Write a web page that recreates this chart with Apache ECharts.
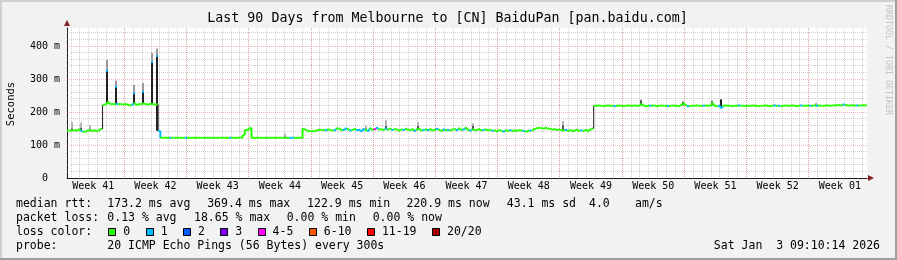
<!DOCTYPE html>
<html><head><meta charset="utf-8">
<script src="https://cdn.jsdelivr.net/npm/echarts@6/dist/echarts.min.js"></script>
<style>html,body{margin:0;padding:0;background:#f2f2f2;overflow:hidden}#c{width:897px;height:260px}</style>
</head><body><div id="c"></div>
<script>
// ---------------- data ----------------
const STEP_DAYS = 0.25;          // spacing of median samples (days)
const TOTAL_DAYS = 90;
const medianValues = [
 144,144,144,145,144,147,143,140,141,144,145,142,144,143,145,149,
 222,224,230,225,224,224,225,224,224,223,224,222,220,223,226,222,224,224,226,224,223,225,224,223,223,
 143,
 122,122,122,122,122,122,122,122,122,122,
 122,122,122,122,122,122,122,122,122,122,
 122,122,122,122,122,122,122,122,122,122,
 122,122,122,122,122,122,122,
 130,146,146,152,
 122,122,122,122,122,122,122,122,122,122,
 122,122,122,122,122,122,122,122,122,122,
 122,122,122,
 149,146,143,142,143,
 142,144,146,146,145,145,147,146,144,145,
 150,150,145,146,150,148,144,146,149,145,
 146,142,148,145,143,150,146,148,152,147,
 148,146,150,147,149,146,148,147,144,147,
 146,149,147,145,148,143,147,149,144,146,
 147,145,148,144,146,149,146,143,147,145,
 146,144,147,148,145,150,146,147,152,146,
 144,147,145,146,148,144,146,147,145,146,
 143,144,142,145,143,141,144,143,145,142,
 144,143,145,144,143,141,142,144,145,149,
 151,152,151,150,152,150,149,147,148,146,
 147,145,144,146,143,145,142,144,146,143,
 144,143,146,142,147,150,
 219,219,220,219,218,219,220,219,219,218,
 219,220,219,218,219,220,219,219,220,219,
 219,224,220,218,219,219,220,219,218,219,
 220,219,219,218,219,220,219,219,218,222,
 226,221,218,218,219,219,220,219,219,219,
 220,219,220,226,219,218,219,213,219,220,
 219,219,218,219,219,220,219,219,218,219,
 219,220,219,219,218,219,219,220,219,218,
 219,220,219,219,218,219,220,219,219,220,
 219,218,219,220,219,219,220,219,219,220,
 219,220,219,219,220,220,219,220,220,221,
 221,220,223,221,220,220,221,220,220,220,
 220,221,220,220
];
// sample indices with 1 lost ping (blue) and 4-5 lost (magenta)
const lossOneIdx = [6,22,29,41,46,53,73,100,101,116,120,124,125,127,130,131,132,133,135,139,143,146,151,156,160,162,166,169,171,175,178,181,187,191,196,199,205,208,224,231,
  246,262,270,279,286,293,294,302,318,320,330,334,337,349,355];
const lossFourIdx = [138];

// smoke spikes (day position, median base, dense-smoke top, faint-smoke top)
const spikeDay  = [4.47, 5.48, 7.54, 8.52, 9.56, 10.12, 0.53, 1.54, 2.59, 24.52, 33.64, 35.89, 39.45, 45.64, 55.83, 64.57, 69.27, 72.53, 73.54, 84.26];
const spikeBase = [225, 225, 225, 225, 225, 143, 145, 145, 142, 122, 148, 148, 147, 146, 145, 220, 220, 220, 212, 220];
const spikeDark = [325, 277, 257, 262, 352, 370, 150, 152, 146, 126, 150, 158, 158, 158, 160, 236, 231, 233, 238, 222];
const spikeTip  = [358, 295, 282, 288, 379, 393, 170, 168, 160, 135, 158, 175, 170, 166, 173, 238, 233, 236, 240, 228];
const spikeBlue = [1, 1, 1, 1, 1, 1, 0, 0, 0, 0, 0, 0, 0, 0, 0, 0, 0, 0, 0, 0];

const weekLabels = ['Week 41','Week 42','Week 43','Week 44','Week 45','Week 46','Week 47','Week 48','Week 49','Week 50','Week 51','Week 52','Week 01'];
const firstWeekLine = 6.45;      // day offset of first week boundary
const firstDayLine = 0.45;       // day offset of first midnight
const yMax = 455;
const yLabelValues = [0, 100, 200, 300, 400];

const lossLabels = ['0','1','2','3','4-5','6-10','11-19','20/20'];
const lossColors = ['#26ff00','#00b8ff','#0059ff','#7e00ff','#ff00ff','#ff5500','#ff0000','#a10000'];

const legendRows = [
  ['median rtt:', '173.2 ms avg', '369.4 ms max', '122.9 ms min', '220.9 ms now', '43.1 ms sd', '4.0', 'am/s'],
  ['packet loss:', '0.13 % avg', '18.65 % max', '0.00 % min', '0.00 % now'],
  ['probe:', '20 ICMP Echo Pings (56 Bytes) every 300s']
];
const titleText = 'Last 90 Days from Melbourne to [CN] BaiduPan [pan.baidu.com]';
const dateText = 'Sat Jan  3 09:10:14 2026';

// ---------------- build ----------------
const loss = medianValues.map(() => 0);
lossOneIdx.forEach(i => loss[i] = 1);
lossFourIdx.forEach(i => loss[i] = 4);
const medianData = medianValues.map((v, i) => [i * STEP_DAYS, v, loss[i], i + 1 < medianValues.length ? medianValues[i + 1] : v]);
const spikeData = spikeDay.map((d, i) => [d, spikeBase[i], spikeDark[i], spikeTip[i], spikeBlue[i]]);

const dayLines = [], weekLines = [], weekCenters = [];
for (let d = firstDayLine; d < TOTAL_DAYS; d += 1) dayLines.push([+d.toFixed(2), 0]);
for (let d = firstWeekLine; d < TOTAL_DAYS; d += 7) weekLines.push([+d.toFixed(2), 0]);
for (let k = 0; k < weekLabels.length; k++) weekCenters.push(+(firstWeekLine - 3.5 + 7 * k).toFixed(2));
const minorH = [], majorH = [];
for (let v = 20; v < yMax; v += 20) (v % 100 === 0 ? majorH : minorH).push([0, v]);

const MONO = '"DejaVu Sans Mono", monospace';
const lossColorOf = l => l >= 4 ? lossColors[4] : lossColors[l] || lossColors[0];

function vGrid(data, color, z) {
  return { type: 'custom', silent: true, z, data, animation: false,
    renderItem(params, api) {
      const cs = params.coordSys;
      const x = Math.floor(api.coord([api.value(0), 0])[0]) + 0.5;
      return { type: 'line', shape: { x1: x, y1: cs.y, x2: x, y2: cs.y + cs.height },
        style: { stroke: color, lineWidth: 1, lineDash: [1, 1] } };
    } };
}
function hGrid(data, color, z) {
  return { type: 'custom', silent: true, z, data, animation: false,
    renderItem(params, api) {
      const cs = params.coordSys;
      const y = Math.floor(api.coord([0, api.value(1)])[1]) + 0.5;
      return { type: 'line', shape: { x1: cs.x, y1: y, x2: cs.x + cs.width, y2: y },
        style: { stroke: color, lineWidth: 1, lineDash: [1, 1] } };
    } };
}

const GRID_C = 'rgba(143,143,143,0.42)';
const MGRID_C = 'rgba(222,80,80,0.42)';

const graphics = [];
// frame
graphics.push({ type: 'rect', shape: { x: 0, y: 0, width: 897, height: 2 }, style: { fill: '#cfcfcf' }, silent: true });
graphics.push({ type: 'rect', shape: { x: 0, y: 0, width: 2, height: 260 }, style: { fill: '#cfcfcf' }, silent: true });
graphics.push({ type: 'rect', shape: { x: 0, y: 258, width: 897, height: 2 }, style: { fill: '#9e9e9e' }, silent: true });
graphics.push({ type: 'rect', shape: { x: 895, y: 0, width: 2, height: 260 }, style: { fill: '#9e9e9e' }, silent: true });
// title
graphics.push({ type: 'text', x: 447.5, y: 19, style: { text: titleText, fontFamily: MONO, fontSize: 13.3, fill: '#000', align: 'center', verticalAlign: 'middle' } });
// y name
graphics.push({ type: 'text', x: 11, y: 104, rotation: Math.PI / 2, style: { text: 'Seconds', fontFamily: MONO, fontSize: 10.5, fill: '#000', align: 'center', verticalAlign: 'middle' } });
// watermark
graphics.push({ type: 'text', x: 888, y: 60, rotation: -Math.PI / 2, style: { text: 'RRDTOOL / TOBI OETIKER', fontFamily: MONO, fontSize: 8.3, fill: '#c4c4c4', align: 'center', verticalAlign: 'middle' } });
// arrows
graphics.push({ type: 'polygon', shape: { points: [[868, 175], [874, 178], [868, 181]] }, style: { fill: '#7f1f1f' } });
graphics.push({ type: 'polygon', shape: { points: [[64, 26], [67, 20], [70, 26]] }, style: { fill: '#7f1f1f' } });

// legend text rows
const rowY = [204, 218.3, 232, 246];
const row1X = [16, 107.3, 207.2, 307.1, 406.5, 506.8, 589, 635];
const row2X = [16, 107.3, 194, 286.7, 372.7];
const row4X = [16, 107.3];
function txt(s, x, y, align) {
  graphics.push({ type: 'text', x, y, style: { text: s, fontFamily: MONO, fontSize: 11.5, fill: '#000', align: align || 'left', verticalAlign: 'middle' } });
}
legendRows[0].forEach((s, i) => txt(s, row1X[i], rowY[0]));
legendRows[1].forEach((s, i) => txt(s, row2X[i], rowY[1]));
txt('loss color:', 16, rowY[2]);
let bx = 108.3;
lossLabels.forEach((lab, i) => {
  graphics.push({ type: 'rect', shape: { x: Math.round(bx) + 0.5, y: 228.5, width: 7, height: 7 }, style: { fill: lossColors[i], stroke: '#000', lineWidth: 1 } });
  txt(lab, bx + 15, rowY[2]);
  bx += 30.4 + lab.length * 6.93;
});
legendRows[2].forEach((s, i) => txt(s, row4X[i], rowY[3]));
txt(dateText, 880, rowY[3], 'right');

const option = {
  animation: false,
  backgroundColor: '#f2f2f2',
  grid: { left: 67, top: 28, width: 800, height: 150, show: true, backgroundColor: '#ffffff', borderWidth: 0 },
  xAxis: {
    type: 'value', min: 0, max: TOTAL_DAYS,
    axisLine: { show: true, onZero: false, lineStyle: { color: '#1e1e1e', width: 1 } },
    axisTick: { show: false },
    splitLine: { show: false },
    axisLabel: {
      customValues: weekCenters, margin: 3, fontFamily: MONO, fontSize: 10, color: '#000',
      formatter: v => weekLabels[Math.round((v - (firstWeekLine - 3.5)) / 7)] || ''
    }
  },
  yAxis: {
    type: 'value', min: 0, max: yMax,
    axisLine: { show: true, lineStyle: { color: '#1e1e1e', width: 1 } },
    axisTick: { show: false },
    splitLine: { show: false },
    axisLabel: {
      customValues: yLabelValues, margin: 7, fontFamily: MONO, fontSize: 10, color: '#000',
      formatter: v => (v % 100 !== 0 ? '' : (v === 0 ? '0  ' : v + ' m'))
    }
  },
  graphic: graphics,
  series: [
    vGrid(dayLines, GRID_C, 1),
    hGrid(minorH, GRID_C, 1),
    vGrid(weekLines, MGRID_C, 2),
    hGrid(majorH, MGRID_C, 2),
    {
      type: 'custom', z: 3, silent: true, data: spikeData, animation: false,
      renderItem(params, api) {
        const d = api.value(0);
        const pB = api.coord([d, api.value(1)]), pD = api.coord([d, api.value(2)]), pT = api.coord([d, api.value(3)]);
        const x = Math.round(pB[0]) - 1;
        const big = api.value(2) - api.value(1) > 20;
        const ch = [
          { type: 'rect', shape: { x, y: pT[1], width: 2, height: pD[1] - pT[1] }, style: { fill: big ? '#9a9a9a' : '#b4b4b4' } },
          { type: 'rect', shape: { x, y: pD[1], width: 2, height: pB[1] - pD[1] }, style: { fill: big ? '#222222' : '#555555' } }
        ];
        if (api.value(4)) ch.push({ type: 'rect', shape: { x, y: pD[1] - 1, width: 2, height: 2 }, style: { fill: lossColors[1] } });
        return { type: 'group', children: ch };
      }
    },
    {
      type: 'custom', z: 4, silent: true, data: medianData, animation: false,
      renderItem(params, api) {
        const d = api.value(0), v = api.value(1), l = api.value(2), nv = api.value(3);
        const dEnd = Math.min(d + STEP_DAYS, TOTAL_DAYS);
        const p0 = api.coord([d, v]), p1 = api.coord([dEnd, v]), p2 = api.coord([dEnd, nv]);
        const col = lossColorOf(l);
        const ch = [{ type: 'line', shape: { x1: p0[0], y1: p0[1], x2: p1[0], y2: p1[1] }, style: { stroke: col, lineWidth: 2 } }];
        if (dEnd < TOTAL_DAYS && Math.abs(nv - v) > 0) {
          const jump = Math.abs(nv - v) > 30;
          ch.push({ type: 'line', shape: { x1: p1[0], y1: p1[1], x2: p2[0], y2: p2[1] }, style: { stroke: jump ? '#1e1e1e' : col, lineWidth: jump ? 1 : 2 } });
        }
        return { type: 'group', children: ch };
      }
    }
  ]
};
const chart = echarts.init(document.getElementById('c'), null, { renderer: 'canvas', width: 897, height: 260 });
chart.setOption(option);
</script>
</body></html>
